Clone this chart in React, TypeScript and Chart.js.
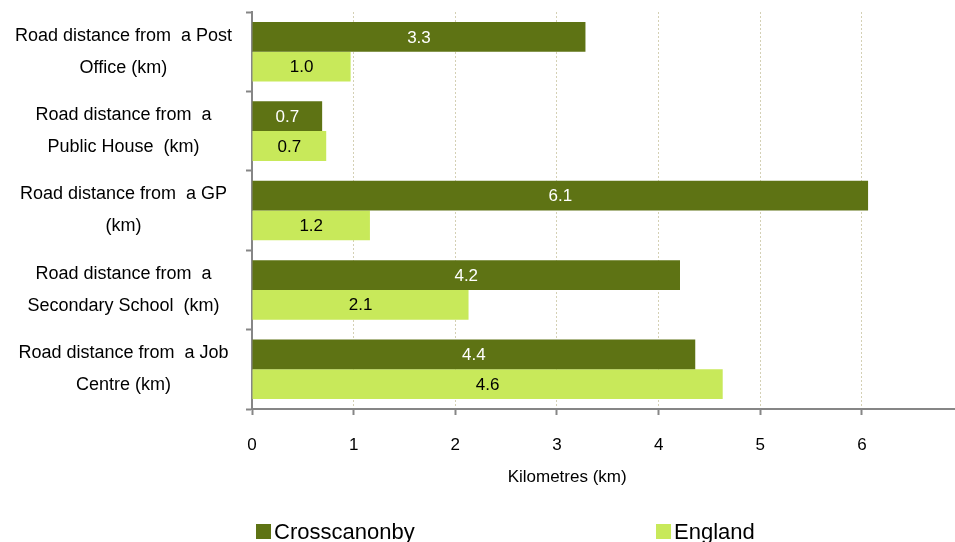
import React, { useEffect, useRef } from "react";
import { Chart, registerables } from "chart.js";
Chart.register(...registerables);

const categories: string[][] = [
  ["Road distance from  a Post", "Office (km)"],
  ["Road distance from  a", "Public House  (km)"],
  ["Road distance from  a GP", "(km)"],
  ["Road distance from  a", "Secondary School  (km)"],
  ["Road distance from  a Job", "Centre (km)"],
];
const seriesNames = ["Crosscanonby", "England"];
const crosscanonby = [3.28, 0.69, 6.06, 4.21, 4.36];
const england = [0.97, 0.73, 1.16, 2.13, 4.63];
const xTicks = [0, 1, 2, 3, 4, 5, 6];
const xTitle = "Kilometres (km)";

const DARK = "#5e7314";
const LIGHT = "#c8e95a";
const AXIS = "#868686";
const GRID = "#d4d0b4";
const FONT = "'Liberation Sans', Arial, sans-serif";

const labelPlugin = {
  id: "barLabels",
  afterDatasetsDraw(chart: any) {
    const ctx = chart.ctx;
    ctx.save();
    ctx.font = `17px ${FONT}`;
    ctx.textAlign = "center";
    ctx.textBaseline = "middle";
    chart.data.datasets.forEach((ds: any, di: number) => {
      const meta = chart.getDatasetMeta(di);
      meta.data.forEach((el: any, i: number) => {
        const v = ds.data[i] as number;
        ctx.fillStyle = di === 0 ? "#ffffff" : "#000000";
        ctx.fillText(v.toFixed(1), (el.x + el.base) / 2, el.y + 1);
      });
    });
    ctx.restore();
  },
};

const extrasPlugin = {
  id: "extras",
  afterDraw(chart: any) {
    const ctx = chart.ctx;
    const xs = chart.scales.x;
    ctx.save();
    ctx.fillStyle = "#000";
    ctx.font = `17px ${FONT}`;
    ctx.textAlign = "center";
    ctx.textBaseline = "middle";
    ctx.fillText(xTitle, xs.getPixelForValue(3.1), 477);
    const colors = [DARK, LIGHT];
    const lx = [256, 656];
    ctx.font = `22px ${FONT}`;
    ctx.textAlign = "left";
    seriesNames.forEach((n, i) => {
      ctx.fillStyle = colors[i];
      ctx.fillRect(lx[i], 524, 15, 15);
      ctx.fillStyle = "#000";
      ctx.fillText(n, lx[i] + 18, 533);
    });
    ctx.restore();
  },
};

export default function App() {
  const ref = useRef<HTMLCanvasElement>(null);
  useEffect(() => {
    if (!ref.current) return;
    const chart = new Chart(ref.current, {
      type: "bar",
      data: {
        labels: categories as any,
        datasets: [
          { label: seriesNames[0], data: crosscanonby, backgroundColor: DARK },
          { label: seriesNames[1], data: england, backgroundColor: LIGHT },
        ],
      },
      options: {
        indexAxis: "y",
        responsive: false,
        animation: false,
        categoryPercentage: 0.75,
        barPercentage: 1,
        layout: { padding: { top: 12, left: 0, right: 0, bottom: 0 } },
        plugins: { legend: { display: false }, tooltip: { enabled: false } },
        scales: {
          x: {
            min: 0,
            max: 6.915,
            afterBuildTicks: (s: any) => {
              s.ticks = xTicks.map((v) => ({ value: v }));
            },
            afterFit: (s: any) => {
              s.height = 542 - 409;
              s.paddingLeft = 0;
              s.paddingRight = 0;
            },
            border: { color: AXIS, width: 2, dash: [2, 2] },
            grid: {
              color: GRID,
              lineWidth: 1,
              tickColor: AXIS,
              tickLength: 6,
              tickWidth: 2,
              tickBorderDash: [],
            } as any,
            ticks: {
              color: "#000",
              font: { family: FONT, size: 17 },
              padding: 20,
              maxRotation: 0,
            },
          },
          y: {
            afterFit: (s: any) => {
              s.width = 252;
              s.paddingTop = 0;
              s.paddingBottom = 0;
            },
            border: { color: AXIS, width: 2 },
            grid: {
              drawOnChartArea: false,
              drawTicks: true,
              tickLength: 6,
              tickColor: AXIS,
              tickWidth: 2,
              offset: true,
            } as any,
            ticks: {
              color: "#000",
              font: { family: FONT, size: 18, lineHeight: 1.78 },
              padding: 14,
              crossAlign: "center",
              autoSkip: false,
            },
          },
        },
      },
      plugins: [labelPlugin, extrasPlugin],
    });
    return () => chart.destroy();
  }, []);
  return (
    <div style={{ position: "absolute", left: 0, top: 0, width: 955, height: 542, background: "#fff" }}>
      <canvas ref={ref} width={955} height={542} style={{ display: "block" }} />
    </div>
  );
}
